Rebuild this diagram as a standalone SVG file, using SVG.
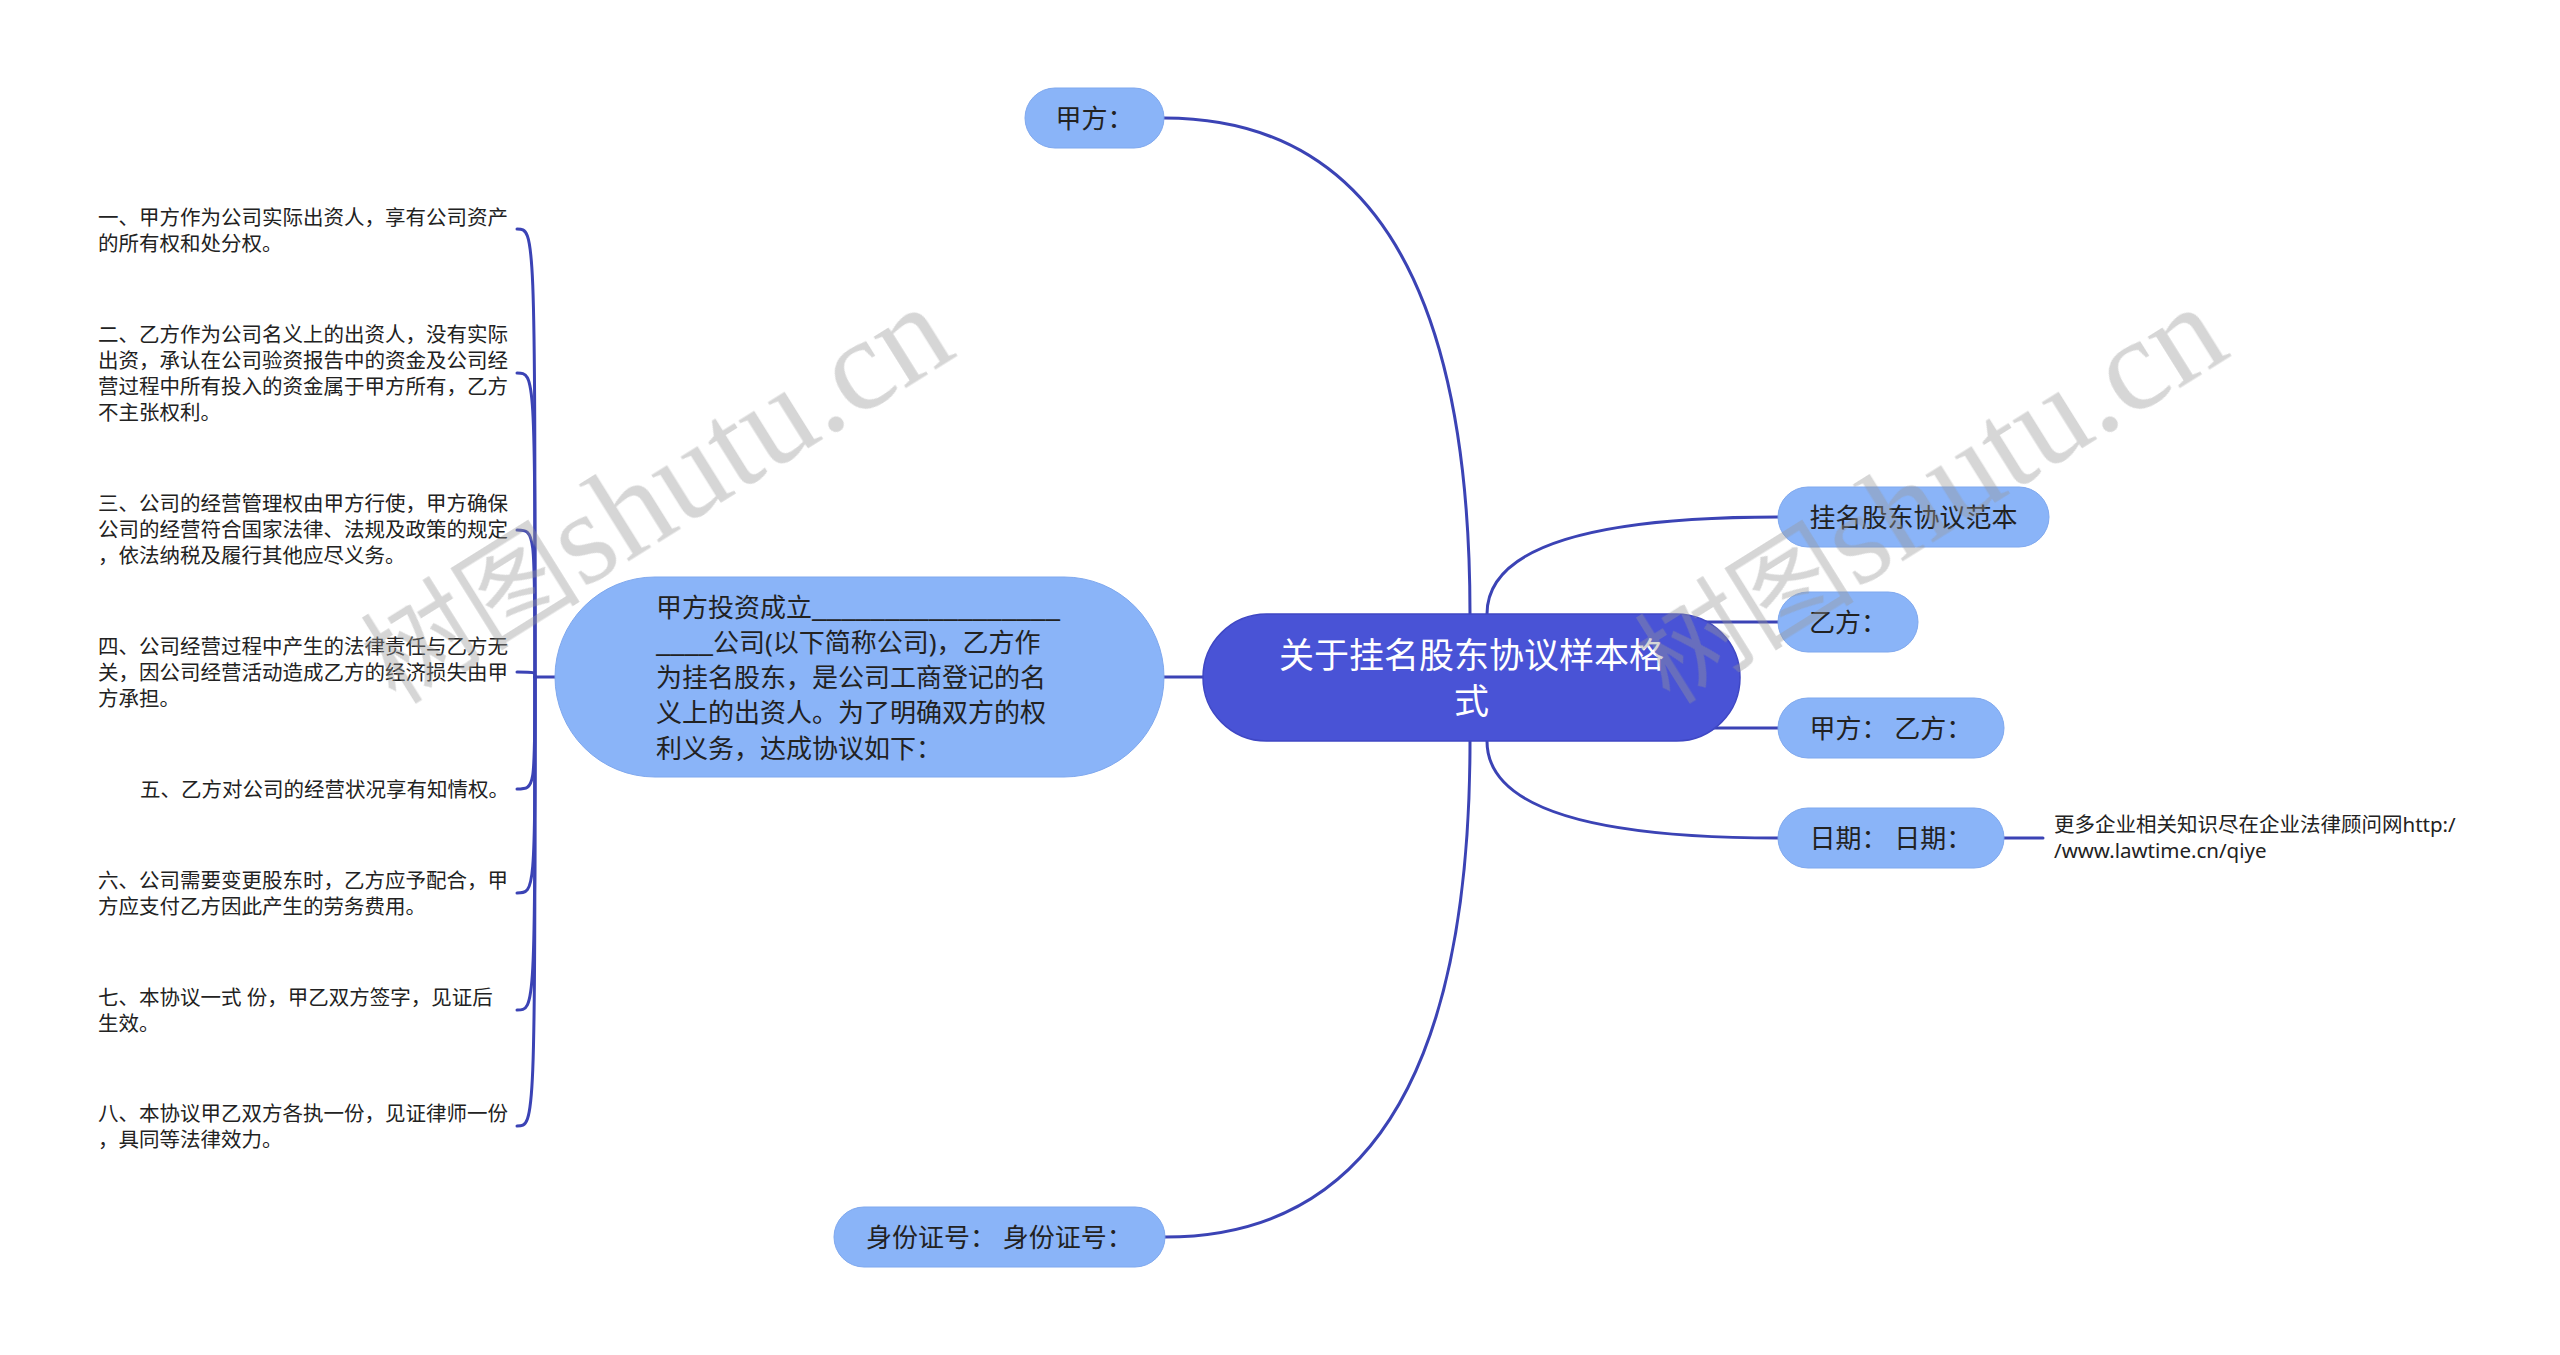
<svg xmlns="http://www.w3.org/2000/svg" width="2560" height="1355" viewBox="0 0 2560 1355">
<style>
.bg{fill:#ffffff}
.conn{fill:none;stroke:#3B43B5;stroke-width:3;stroke-linecap:round}
.root{fill:#4953D6;stroke:#3F47C4;stroke-width:1.5}
.sub{fill:#8AB4F8;stroke:#7FA8EE;stroke-width:1}
.t{font-family:"Noto Sans","Noto Sans CJK SC",sans-serif;fill:#222222}
.rt{font-family:"Noto Sans","Noto Sans CJK SC",sans-serif;fill:#ffffff;font-size:35px}
.n{font-size:26px}
.s{font-size:20.5px}
.wm{fill:#999999;opacity:0.4}
.wmc{font-family:"Noto Sans CJK SC",sans-serif;font-size:110px}
.wml{font-family:"Liberation Serif",serif;font-size:132px}
</style>
<rect class="bg" x="0" y="0" width="2560" height="1355"/>
<g id="connectors">
<path class="conn" d="M1470 614 Q1470 118 1164 118"/>
<path class="conn" d="M1470 741 Q1470 1237 1165 1237"/>
<path class="conn" d="M1487 614 Q1487 517 1778 517"/>
<path class="conn" d="M1700 622 L1778 622"/>
<path class="conn" d="M1690 728 L1778 728"/>
<path class="conn" d="M1487 741 Q1487 838 1778 838"/>
<path class="conn" d="M1163 677 L1203 677"/>
<path class="conn" d="M2004 838 L2043 838"/>
<path class="conn" d="M555 677 L535 677"/>
<path class="conn" d="M535 677 C535 229 535 229 517 229"/>
<path class="conn" d="M535 677 C535 373 535 373 517 373"/>
<path class="conn" d="M535 677 C535 530 535 530 517 530"/>
<path class="conn" d="M535 677 C535 672 535 672 517 672"/>
<path class="conn" d="M535 677 C535 789 535 789 517 789"/>
<path class="conn" d="M535 677 C535 893 535 893 517 893"/>
<path class="conn" d="M535 677 C535 1010 535 1010 517 1010"/>
<path class="conn" d="M535 677 C535 1126 535 1126 517 1126"/>
</g>
<g id="root">
<rect class="root" x="1203" y="614" width="537" height="127" rx="63.5"/>
<text class="rt" text-anchor="middle"><tspan x="1471.5" y="668">关于挂名股东协议样本格</tspan><tspan x="1471.5" y="714">式</tspan></text>
</g>
<g id="intro">
<rect class="sub" x="555" y="577" width="609" height="200" rx="100"/>
<text class="t n"><tspan x="656" y="617">甲方投资成立</tspan><tspan x="812" y="617" textLength="248" lengthAdjust="spacingAndGlyphs">_________________</tspan><tspan x="656" y="652" textLength="57" lengthAdjust="spacingAndGlyphs">____</tspan><tspan x="713" y="652">公司(以下简称公司)，乙方作</tspan><tspan x="656" y="687">为挂名股东，是公司工商登记的名</tspan><tspan x="656" y="722">义上的出资人。为了明确双方的权</tspan><tspan x="656" y="758">利义务，达成协议如下：</tspan></text>
</g>
<g id="jiafang">
<rect class="sub" x="1025" y="88" width="139" height="60" rx="30"/>
<text class="t n" x="1094.5" y="128" text-anchor="middle">甲方：</text>
</g>
<g id="shenfenzheng">
<rect class="sub" x="834" y="1207" width="331" height="60" rx="30"/>
<text class="t n" x="999.5" y="1247" text-anchor="middle">身份证号： 身份证号：</text>
</g>
<g id="guaming">
<rect class="sub" x="1778" y="487" width="271" height="60" rx="30"/>
<text class="t n" x="1913.5" y="527" text-anchor="middle">挂名股东协议范本</text>
</g>
<g id="yifang">
<rect class="sub" x="1778" y="592" width="140" height="60" rx="30"/>
<text class="t n" x="1848" y="632" text-anchor="middle">乙方：</text>
</g>
<g id="jiayi">
<rect class="sub" x="1778" y="698" width="226" height="60" rx="30"/>
<text class="t n" x="1891" y="738" text-anchor="middle">甲方： 乙方：</text>
</g>
<g id="riqi">
<rect class="sub" x="1778" y="808" width="226" height="60" rx="30"/>
<text class="t n" x="1891" y="848" text-anchor="middle">日期： 日期：</text>
</g>
<g id="note">
<text class="t s"><tspan x="2054" y="832">更多企业相关知识尽在企业法律顾问网http:/</tspan><tspan x="2054" y="858">/www.lawtime.cn/qiye</tspan></text>
</g>
<g id="item1"><text class="t s"><tspan x="98" y="225">一、甲方作为公司实际出资人，享有公司资产</tspan><tspan x="98" y="251">的所有权和处分权。</tspan></text></g>
<g id="item2"><text class="t s"><tspan x="98" y="342">二、乙方作为公司名义上的出资人，没有实际</tspan><tspan x="98" y="368">出资，承认在公司验资报告中的资金及公司经</tspan><tspan x="98" y="394">营过程中所有投入的资金属于甲方所有，乙方</tspan><tspan x="98" y="420">不主张权利。</tspan></text></g>
<g id="item3"><text class="t s"><tspan x="98" y="511">三、公司的经营管理权由甲方行使，甲方确保</tspan><tspan x="98" y="537">公司的经营符合国家法律、法规及政策的规定</tspan><tspan x="98" y="563">，依法纳税及履行其他应尽义务。</tspan></text></g>
<g id="item4"><text class="t s"><tspan x="98" y="654">四、公司经营过程中产生的法律责任与乙方无</tspan><tspan x="98" y="680">关，因公司经营活动造成乙方的经济损失由甲</tspan><tspan x="98" y="706">方承担。</tspan></text></g>
<g id="item5"><text class="t s" x="140" y="797">五、乙方对公司的经营状况享有知情权。</text></g>
<g id="item6"><text class="t s"><tspan x="98" y="888">六、公司需要变更股东时，乙方应予配合，甲</tspan><tspan x="98" y="914">方应支付乙方因此产生的劳务费用。</tspan></text></g>
<g id="item7"><text class="t s"><tspan x="98" y="1005">七、本协议一式 份，甲乙双方签字，见证后</tspan><tspan x="98" y="1031">生效。</tspan></text></g>
<g id="item8"><text class="t s"><tspan x="98" y="1121">八、本协议甲乙双方各执一份，见证律师一份</tspan><tspan x="98" y="1147">，具同等法律效力。</tspan></text></g>
<g id="watermarks" class="wm">
<text transform="translate(396 706) rotate(-32)"><tspan class="wmc">树图</tspan><tspan class="wml">shutu.cn</tspan></text>
<text transform="translate(1670 706) rotate(-32)"><tspan class="wmc">树图</tspan><tspan class="wml">shutu.cn</tspan></text>
</g>
</svg>
